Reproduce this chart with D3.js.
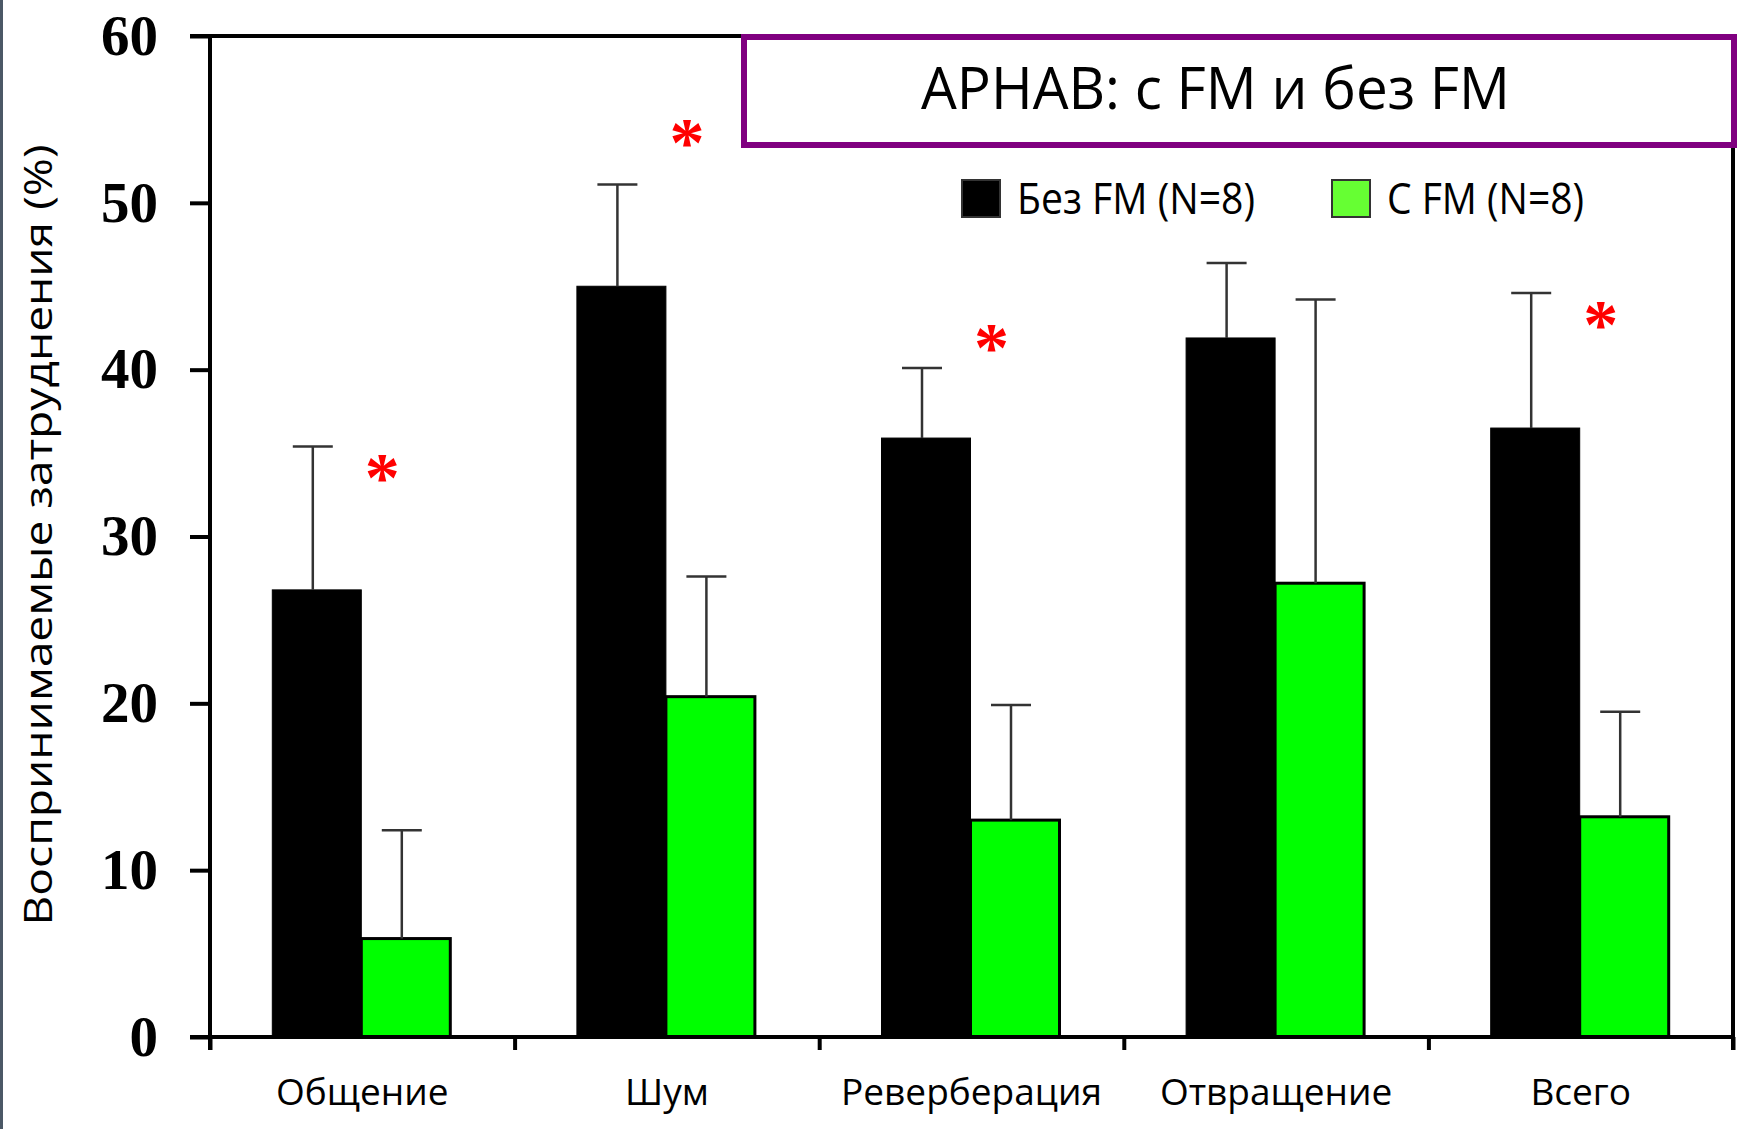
<!DOCTYPE html>
<html>
<head>
<meta charset="utf-8">
<script src="https://cdn.jsdelivr.net/npm/d3@7"></script>
<style>
  html, body { margin: 0; padding: 0; background: #fff; }
  svg { display: block; }
</style>
</head>
<body>
<svg width="1738" height="1129"></svg>
<script>
// APHAB scores with and without FM system
var categories = ['Общение', 'Шум', 'Реверберация', 'Отвращение', 'Всего'];
var seriesNames = ['Без FM (N=8)', 'С FM (N=8)'];
var withoutFM = [26.8, 45.0, 35.9, 41.9, 36.5];
var withoutFMErr = [35.4, 51.1, 40.1, 46.4, 44.6];   // top of error bar
var withFM = [5.9, 20.4, 13.0, 27.2, 13.2];
var withFMErr = [12.4, 27.6, 19.9, 44.2, 19.5];
var starLevel = [33.9, 54.0, 41.7, null, 43.1];     // red asterisks (significance)
var yTicks = [0, 10, 20, 30, 40, 50, 60];
var chartTitle = 'APHAB: с FM и без FM';
var yTitle = 'Воспринимаемые затруднения (%)';

var svg = d3.select('svg');
var plotL = 210, plotR = 1733, plotT = 36, plotB = 1037;

// slide edge
svg.append('rect').attr('x', 0).attr('y', 0).attr('width', 3).attr('height', 1129).attr('fill', '#4b5866');

var x = d3.scaleBand().domain(categories).range([plotL, plotR]);
var xEdge = d3.scaleLinear().domain([0, categories.length]).range([plotL, plotR]);
var y = d3.scaleLinear().domain([0, 60]).range([plotB, plotT]);
var sub = d3.scaleBand().domain([0, 1]).range([-90, 88]);

var fillCol = ['#000000', '#00ff00'];

// bars
var series = [withoutFM, withFM];
var errs = [withoutFMErr, withFMErr];
var groups = svg.append('g');
series.forEach(function (vals, s) {
    groups.selectAll('.bar' + s)
        .data(vals)
        .enter()
        .append('rect')
        .attr('class', 'bar' + s)
        .attr('x', function (d, i) { return x(categories[i]) + x.bandwidth() / 2 + sub(s); })
        .attr('y', function (d) { return y(d); })
        .attr('width', sub.bandwidth())
        .attr('height', function (d) { return plotB - y(d); })
        .attr('fill', fillCol[s])
        .attr('stroke', '#000')
        .attr('stroke-width', s ? 3 : 1);
});

// error bars
series.forEach(function (vals, s) {
    var g = svg.append('g').attr('stroke', '#333').attr('stroke-width', 2.5);
    vals.forEach(function (v, i) {
        var cx = x(categories[i]) + x.bandwidth() / 2 + sub(s) + sub.bandwidth() / 2 - 4;
        g.append('line').attr('x1', cx).attr('x2', cx).attr('y1', y(v)).attr('y2', y(errs[s][i]));
        g.append('line').attr('x1', cx - 20).attr('x2', cx + 20).attr('y1', y(errs[s][i])).attr('y2', y(errs[s][i]));
    });
});

// asterisks
svg.append('g').selectAll('text')
    .data(starLevel.map(function (v, i) { return { v: v, c: categories[i] }; }).filter(function (d) { return d.v !== null; }))
    .enter()
    .append('text')
    .attr('x', function (d) { return x(d.c) + x.bandwidth() / 2 + 20; })
    .attr('y', function (d) { return y(d.v) + 30; })
    .attr('text-anchor', 'middle')
    .attr('font-family', 'Liberation Serif')
    .attr('font-weight', 'bold')
    .attr('font-size', 70)
    .attr('fill', '#ff0000')
    .text('*');

// axes
var yAxis = svg.append('g')
    .attr('transform', 'translate(' + plotL + ',0)')
    .call(d3.axisLeft(y).tickValues(yTicks).tickSize(20).tickPadding(32));
yAxis.select('.domain').remove();
yAxis.selectAll('line').attr('stroke', '#000').attr('stroke-width', 4);
yAxis.selectAll('text')
    .attr('font-family', 'Liberation Serif')
    .attr('font-weight', 'bold')
    .attr('font-size', 57)
    .attr('fill', '#000');

var xAxis = svg.append('g')
    .attr('transform', 'translate(0,' + plotB + ')')
    .call(d3.axisBottom(xEdge).ticks(categories.length).tickSize(13).tickFormat(''));
xAxis.select('.domain').remove();
xAxis.selectAll('line').attr('stroke', '#000').attr('stroke-width', 4);

var xLabels = svg.append('g')
    .attr('transform', 'translate(0,' + plotB + ')')
    .call(d3.axisBottom(x).tickSize(0).tickPadding(42));
xLabels.select('.domain').remove();
xLabels.selectAll('text')
    .attr('font-family', 'Open Sans')
    .attr('font-size', 37)
    .attr('fill', '#000');

// frame lines
var frame = svg.append('g').attr('stroke', '#000').attr('stroke-width', 4).attr('fill', 'none');
frame.append('line').attr('x1', plotL).attr('x2', plotL).attr('y1', plotT - 2).attr('y2', plotB + 13);
frame.append('line').attr('x1', plotL - 20).attr('x2', plotR + 2).attr('y1', plotT).attr('y2', plotT);
frame.append('line').attr('x1', plotL - 20).attr('x2', plotR + 2).attr('y1', plotB).attr('y2', plotB);
frame.append('line').attr('x1', plotR).attr('x2', plotR).attr('y1', plotT).attr('y2', plotB + 13);

// y title
svg.append('text')
    .attr('transform', 'translate(52,535) rotate(-90)')
    .attr('text-anchor', 'middle')
    .attr('font-family', 'Open Sans')
    .attr('font-size', 39)
    .attr('textLength', 781)
    .attr('lengthAdjust', 'spacingAndGlyphs')
    .attr('fill', '#000')
    .text(yTitle);

// title box
svg.append('rect')
    .attr('x', 744).attr('y', 37).attr('width', 990).attr('height', 108)
    .attr('fill', '#fff').attr('stroke', '#800080').attr('stroke-width', 6);
svg.append('text')
    .attr('x', 921).attr('y', 109)
    .attr('font-family', 'Open Sans')
    .attr('font-size', 59)
    .attr('textLength', 589)
    .attr('lengthAdjust', 'spacingAndGlyphs')
    .attr('fill', '#000')
    .text(chartTitle);

// legend
var legX = [962, 1332], legTextLen = [238, 197];
var legCol = ['#000000', '#66ff33'];
var legend = svg.append('g');
seriesNames.forEach(function (name, i) {
    legend.append('rect')
        .attr('x', legX[i]).attr('y', 180).attr('width', 38).attr('height', 37)
        .attr('fill', legCol[i]).attr('stroke', '#333').attr('stroke-width', 2);
    legend.append('text')
        .attr('x', legX[i] + 55).attr('y', 214)
        .attr('font-family', 'Open Sans')
        .attr('font-size', 43)
        .attr('textLength', legTextLen[i])
        .attr('lengthAdjust', 'spacingAndGlyphs')
        .attr('fill', '#000')
        .text(name);
});
</script>
</body>
</html>
